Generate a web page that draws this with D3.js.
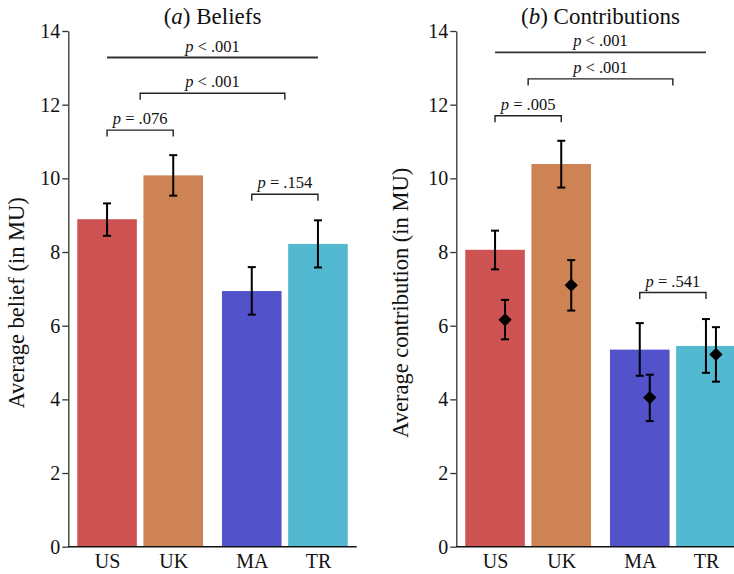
<!DOCTYPE html>
<html><head><meta charset="utf-8">
<script src="https://cdn.jsdelivr.net/npm/d3@7"></script>
<style>body{margin:0;background:#fff}svg{display:block}
svg text{font-family:"Liberation Serif","Times New Roman",Tinos,"Nimbus Roman","DejaVu Serif",serif !important;}</style>
</head><body>
<svg id="c" width="734" height="574"></svg>
<script>
// ---------- data ----------
const countries = ["US", "UK", "MA", "TR"];
const pairs = ["Western", "Non-Western"];
const pairOf = [0, 0, 1, 1];
const colors = ["#cd5252", "#cd8353", "#5252cb", "#52b9d0"];
const yTicks = [0, 2, 4, 6, 8, 10, 12, 14];

const beliefMean = [8.89, 10.08, 6.94, 8.22];
const beliefLo   = [8.44, 9.53, 6.30, 7.58];
const beliefHi   = [9.32, 10.63, 7.59, 8.86];

const contribMean = [8.06, 10.39, 5.35, 5.45];
const contribLo   = [7.53, 9.75, 4.64, 4.72];
const contribHi   = [8.58, 11.02, 6.07, 6.18];

const markerMean = [6.16, 7.10, 4.05, 5.22];
const markerLo   = [5.63, 6.41, 3.41, 4.48];
const markerHi   = [6.70, 7.78, 4.67, 5.96];

// brackets: from/to are country names or pair names, level in MU
const beliefBrackets = [
  {from: "US", to: "TR", level: 13.28, label: "< .001", ticks: false},
  {from: "Western", to: "Non-Western", level: 12.31, label: "< .001", ticks: true},
  {from: "US", to: "UK", level: 11.31, label: "= .076", ticks: true},
  {from: "MA", to: "TR", level: 9.57, label: "= .154", ticks: true}
];
const contribBrackets = [
  {from: "US", to: "TR", level: 13.42, label: "< .001", ticks: false},
  {from: "Western", to: "Non-Western", level: 12.70, label: "< .001", ticks: true},
  {from: "US", to: "UK", level: 11.70, label: "= .005", ticks: true},
  {from: "MA", to: "TR", level: 6.90, label: "= .541", ticks: true}
];

// ---------- layout ----------
const svg = d3.select("#c");
const y = d3.scaleLinear().domain([0, 14]).range([546.7, 31]);

const panels = [
  {x0: 68.3, x1: 356.7, letter: "a", title: " Beliefs", ylabel: "Average belief (in MU)", ylabX: 24,
   mean: beliefMean, lo: beliefLo, hi: beliefHi, brackets: beliefBrackets, markers: false},
  {x0: 456.3, x1: 744.7, letter: "b", title: " Contributions", ylabel: "Average contribution (in MU)", ylabX: 408,
   mean: contribMean, lo: contribLo, hi: contribHi, brackets: contribBrackets, markers: true}
];

panels.forEach(p => {
  const g = svg.append("g");
  const outer = d3.scaleBand().domain(pairs).range([p.x0, p.x1]).paddingInner(0.131).paddingOuter(0.062);
  const inner = d3.scaleBand().domain([0, 1]).range([0, outer.bandwidth()]).paddingInner(0.1).paddingOuter(0);
  const bw = inner.bandwidth();
  const barX = i => outer(pairs[pairOf[i]]) + inner(countries.slice(0, i).filter((c, j) => pairOf[j] === pairOf[i]).length);
  const cx = i => barX(i) + bw / 2;
  const xOrd = d3.scaleOrdinal().domain(countries).range(countries.map((c, i) => cx(i)));
  const posOf = name => {
    const ci = countries.indexOf(name);
    if (ci >= 0) return cx(ci);
    return outer(name) + outer.bandwidth() / 2;
  };

  // bars
  g.selectAll("rect.bar").data(p.mean).join("rect")
    .attr("x", (d, i) => barX(i)).attr("width", bw)
    .attr("y", d => y(d)).attr("height", d => y(0) - y(d))
    .attr("fill", (d, i) => colors[i]);

  // error bars
  const errBar = (gg, xs, lo, hi) => {
    lo.forEach((l, i) => {
      const x = xs(i);
      gg.append("line").attr("x1", x).attr("x2", x).attr("y1", y(l)).attr("y2", y(hi[i]))
        .attr("stroke", "#000").attr("stroke-width", 2);
      [l, hi[i]].forEach(v => gg.append("line").attr("x1", x - 4).attr("x2", x + 4)
        .attr("y1", y(v)).attr("y2", y(v)).attr("stroke", "#000").attr("stroke-width", 2));
    });
  };
  errBar(g, cx, p.lo, p.hi);

  if (p.markers) {
    const mx = i => cx(i) + 10;
    errBar(g, mx, markerLo, markerHi);
    g.selectAll("path.mk").data(markerMean).join("path")
      .attr("d", d3.symbol(d3.symbolSquare, 88)())
      .attr("transform", (d, i) => `translate(${mx(i)},${y(d)}) rotate(45)`)
      .attr("fill", "#000");
  }

  // y axis
  const ya = g.append("g").attr("transform", `translate(${p.x0},0)`)
    .call(d3.axisLeft(y).tickValues(yTicks).tickFormat(d3.format("d")).tickSize(6).tickSizeOuter(0).tickPadding(2));
  ya.select(".domain").attr("stroke", "#333").attr("stroke-width", 1.3);
  ya.selectAll(".tick line").attr("stroke", "#333").attr("stroke-width", 1.3);
  ya.selectAll("text").attr("font-size", 20).attr("fill", "#111");

  // x axis
  const xa = g.append("g").attr("transform", `translate(0,${y(0)})`)
    .call(d3.axisBottom(xOrd).tickSize(0).tickPadding(7));
  xa.select(".domain").remove();
  xa.append("line").attr("x1", p.x0).attr("x2", p.x1).attr("stroke", "#111").attr("stroke-width", 1.5);
  xa.selectAll("text").attr("font-size", 20).attr("fill", "#111");

  // y label
  g.append("text").attr("transform", `translate(${p.ylabX},${(y(0) + y(14)) / 2 + 14}) rotate(-90)`)
    .attr("text-anchor", "middle").attr("font-size", 22.5).attr("fill", "#111")
    .text(p.ylabel);

  // title
  const t = g.append("text").attr("x", (p.x0 + p.x1) / 2).attr("y", 24)
    .attr("text-anchor", "middle").attr("font-size", 23).attr("fill", "#111");
  t.append("tspan").text("(");
  t.append("tspan").attr("font-style", "italic").text(p.letter);
  t.append("tspan").text(")" + p.title);

  // brackets
  p.brackets.forEach(b => {
    const xa1 = posOf(b.from), xa2 = posOf(b.to), yy = y(b.level);
    const path = d3.path();
    if (b.ticks) {
      path.moveTo(xa1, yy + 6.5); path.lineTo(xa1, yy); path.lineTo(xa2, yy); path.lineTo(xa2, yy + 6.5);
    } else {
      path.moveTo(xa1, yy); path.lineTo(xa2, yy);
    }
    g.append("path").attr("d", path.toString()).attr("fill", "none")
      .attr("stroke", b.ticks ? "#222" : "#333").attr("stroke-width", b.ticks ? 1.4 : 1.8);
    const tx = g.append("text").attr("x", (xa1 + xa2) / 2).attr("y", yy - 6)
      .attr("text-anchor", "middle").attr("font-size", 16.5).attr("fill", "#111");
    tx.append("tspan").attr("font-style", "italic").text("p");
    tx.append("tspan").text(" " + b.label);
  });
});
</script>
</body></html>
